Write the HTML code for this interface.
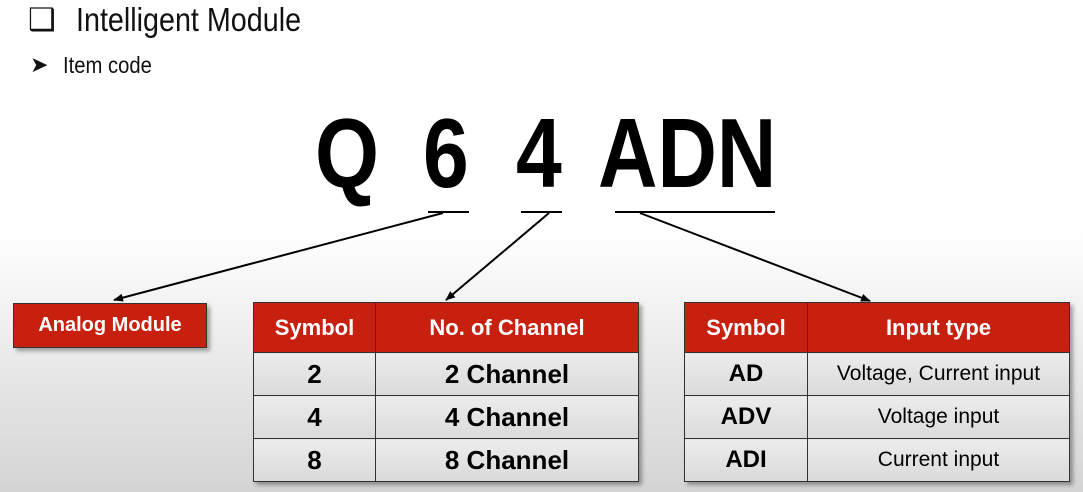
<!DOCTYPE html>
<html><head><meta charset="utf-8"><style>
html,body{margin:0;padding:0}
body{width:1083px;height:492px;overflow:hidden;position:relative;font-family:"Liberation Sans",Arial,sans-serif;background:linear-gradient(to bottom,#fff 0,#fff 230px,#e6e6e6 380px,#d4d4d4 492px)}
.a{position:absolute}
.big{position:absolute;top:98px;font-size:98px;font-weight:bold;line-height:110px;transform:scaleX(0.84);transform-origin:0 0}
table{position:absolute;border-collapse:collapse;box-shadow:3px 3px 4px rgba(0,0,0,.35)}
td{border:1.5px solid #333;text-align:center;padding:0;background:linear-gradient(#ececec,#dadada)}
th{background:#c8200e;color:#fff;font-weight:bold;font-size:22px;height:47px;border:1.5px solid #333}
td{height:42px}
.b{font-weight:bold;font-size:26px}
</style></head><body>
<div class="a" style="left:28px;top:2px;font-size:31px;color:#111;line-height:36px">&#10065;</div>
<div class="a" style="left:76px;top:2px;font-size:33px;color:#111;line-height:36px;transform:scaleX(0.87);transform-origin:0 0">Intelligent Module</div>
<div class="a" style="left:30px;top:52px;font-size:22px;color:#111;line-height:26px">&#10148;</div>
<div class="a" style="left:63px;top:52px;font-size:23px;color:#111;line-height:26px;transform:scaleX(0.88);transform-origin:0 0">Item code</div>
<div class="big" style="left:315px">Q</div>
<div class="big" style="left:423px">6</div>
<div class="big" style="left:516px">4</div>
<div class="big" style="left:598px">ADN</div>
<svg class="a" style="left:0;top:0" width="1083" height="492">
<defs><marker id="m" markerWidth="10" markerHeight="8" refX="9" refY="4" orient="auto" markerUnits="userSpaceOnUse"><path d="M0,0 L10,4 L0,8 z" fill="#000"/></marker></defs>
<g stroke="#000" stroke-width="2">
<line x1="428" y1="212" x2="469" y2="212"/>
<line x1="521" y1="212" x2="562" y2="212"/>
<line x1="615" y1="212" x2="775" y2="212"/>
<line x1="443" y1="213" x2="114" y2="300" marker-end="url(#m)"/>
<line x1="549" y1="213" x2="446" y2="300" marker-end="url(#m)"/>
<line x1="640" y1="213" x2="870" y2="301" marker-end="url(#m)"/>
</g></svg>
<div class="a" style="left:13px;top:303px;width:192px;height:43px;background:#c8200e;border:1.5px solid #333;box-shadow:3px 3px 4px rgba(0,0,0,.35);color:#fff;font-weight:bold;font-size:20px;line-height:43px;text-align:center">Analog Module</div>
<table style="left:253px;top:302px;width:386px">
<tr><th style="width:119px">Symbol</th><th>No. of Channel</th></tr>
<tr><td class="b">2</td><td class="b">2 Channel</td></tr>
<tr><td class="b">4</td><td class="b">4 Channel</td></tr>
<tr><td class="b">8</td><td class="b">8 Channel</td></tr>
</table>
<table style="left:684px;top:302px;width:386px">
<tr><th style="width:120px">Symbol</th><th>Input type</th></tr>
<tr><td class="b" style="font-size:24px">AD</td><td style="font-size:21px">Voltage, Current input</td></tr>
<tr><td class="b" style="font-size:24px">ADV</td><td style="font-size:21px">Voltage input</td></tr>
<tr><td class="b" style="font-size:24px">ADI</td><td style="font-size:21px">Current input</td></tr>
</table>
</body></html>
